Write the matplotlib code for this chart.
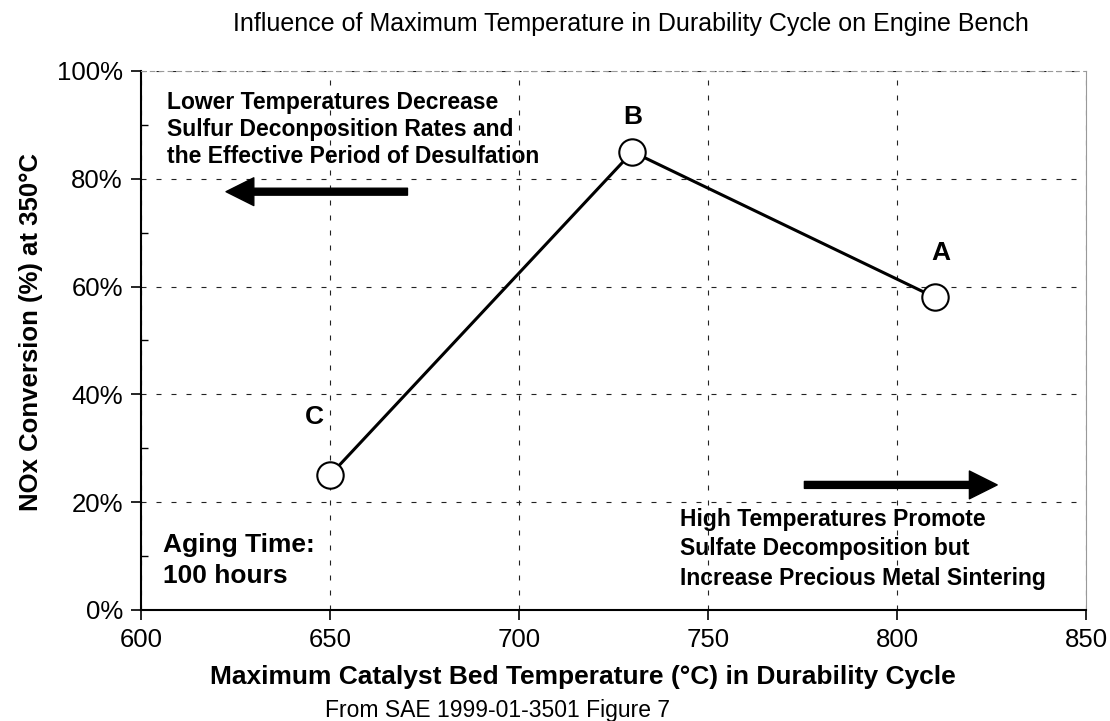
import matplotlib.pyplot as plt
from matplotlib.ticker import MultipleLocator, PercentFormatter

plt.rcParams['font.family'] = ['Liberation Sans', 'DejaVu Sans']

# Datos: temperatura máxima del lecho y conversión de NOx a 350 °C
temp = [650, 730, 810]
conv = [25, 85, 58]
point_labels = ['C', 'B', 'A']

fig = plt.figure(figsize=(11.1, 7.21), dpi=100)
ax = fig.add_axes([0.127, 0.154, 0.8514, 0.7476])

ax.plot(temp, conv, color='black', lw=2.2, zorder=3)
ax.plot(temp, conv, 'o', ms=19, mfc='white', mec='black', mew=1.5, zorder=4)

# desplazamiento de cada letra respecto a su punto (en puntos)
offsets = {'C': (-11.5, 41.8), 'B': (0, 25), 'A': (4.3, 31.7)}
for x, y, lab in zip(temp, conv, point_labels):
    dx, dy = offsets[lab]
    ax.annotate(lab, (x, y), xytext=(dx, dy), textcoords='offset points',
                ha='center', va='center', fontsize=19, fontweight='bold')

ax.set_xlim(600, 850)
ax.set_ylim(0, 100)
ax.xaxis.set_major_locator(MultipleLocator(50))
ax.yaxis.set_major_locator(MultipleLocator(20))
ax.yaxis.set_minor_locator(MultipleLocator(10))
ax.yaxis.set_major_formatter(PercentFormatter(decimals=0))
ax.tick_params(axis='both', which='major', direction='out', length=7, width=1.2,
               labelsize=18.5, pad=6)
ax.tick_params(axis='y', which='minor', direction='in', length=5, width=1)

ax.grid(True, which='major', color='#222222', ls=(0, (4.5, 9)), lw=0.8)
for side in ['left', 'bottom']:
    ax.spines[side].set_linewidth(1.5)
ax.spines['right'].set_color('#999999')
ax.spines['top'].set_color('#999999')
ax.spines['top'].set_linestyle((0, (4, 4)))

ax.set_xlabel('Maximum Catalyst Bed Temperature (°C) in Durability Cycle',
              fontsize=19, fontweight='bold')
ax.xaxis.set_label_coords(0.468, -0.103)
ax.set_ylabel('NOx Conversion (%) at 350°C', fontsize=18.5, fontweight='bold')
ax.yaxis.set_label_coords(-0.104, 0.516)
fig.text(0.568, 0.967, 'Influence of Maximum Temperature in Durability Cycle on Engine Bench',
         ha='center', va='center', fontsize=18)
fig.text(0.448, 0.014, 'From SAE 1999-01-3501 Figure 7', ha='center', va='center', fontsize=16.5)

# Flechas de tendencia
arrow_style = 'simple,tail_width=0.25,head_width=1.0,head_length=1.0'
ax.annotate('', xy=(622.5, 77.6), xytext=(670.5, 77.6),
            arrowprops=dict(arrowstyle=arrow_style, fc='black', ec='black',
                            mutation_scale=20, shrinkA=0, shrinkB=0))
ax.annotate('', xy=(826.5, 23.2), xytext=(775.5, 23.2),
            arrowprops=dict(arrowstyle=arrow_style, fc='black', ec='black',
                            mutation_scale=20, shrinkA=0, shrinkB=0))

ax.text(606.9, 96.2, 'Lower Temperatures Decrease\nSulfur Deconposition Rates and\nthe Effective Period of Desulfation',
        ha='left', va='top', fontsize=16.5, fontweight='bold', linespacing=1.2)
ax.text(742.6, 19.0, 'High Temperatures Promote\nSulfate Decomposition but\nIncrease Precious Metal Sintering',
        ha='left', va='top', fontsize=16.5, fontweight='bold', linespacing=1.38)
ax.text(605.8, 14.3, 'Aging Time:\n100 hours', ha='left', va='top',
        fontsize=19, fontweight='bold', linespacing=1.35)

fig.savefig('out.png', dpi=100)
